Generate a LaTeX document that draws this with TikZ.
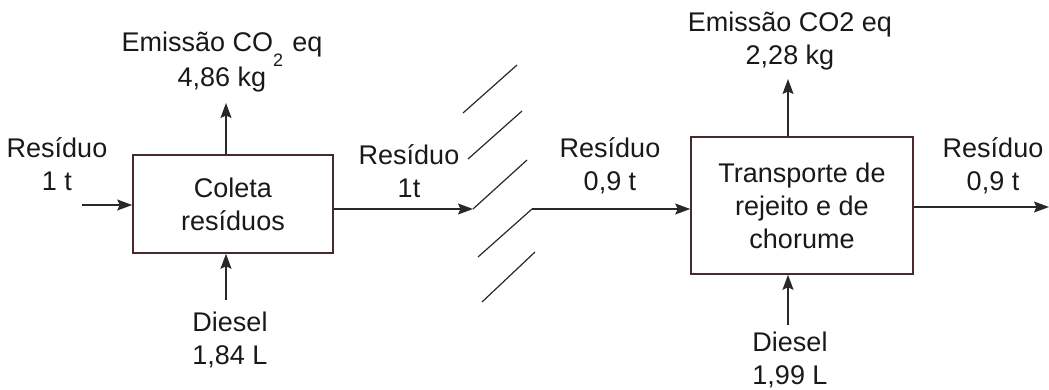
\documentclass[tikz,border=0pt]{standalone}
\usepackage{fontspec}
\setmainfont{Liberation Sans}
\usetikzlibrary{arrows.meta,calc}
\definecolor{boxline}{RGB}{72,42,42}
\definecolor{flow}{RGB}{40,40,40}
\begin{document}
\begin{tikzpicture}[x=1pt,y=-1pt,
  every node/.style={font=\fontsize{27}{33}\selectfont, text=black!90},
  proc/.style={draw=boxline, line width=1.6pt, fill=white, align=center, inner sep=0pt},
  lbl/.style={align=center, inner sep=0pt},
  flw/.style={draw=flow, line width=1.2pt},
  arr/.style={flw, -{Stealth[length=15pt,width=11pt,inset=2.5pt]}},
  brk/.style={draw=flow, line width=1.2pt}]
  \useasboundingbox (0,0) rectangle (1049,390);

  % process boxes
  \node[proc, minimum width=200pt, minimum height=98pt] (coleta) at (233,204) {Coleta\\res\'iduos};
  \node[proc, minimum width=222pt, minimum height=137pt] (transp) at (802,205.5) {Transporte de\\rejeito e de\\chorume};

  % labels
  \node[lbl] (r1) at (57,164) {Res\'iduo\\1 t};
  \node[lbl] (em1) at (222,62) {Emiss\~ao CO\raisebox{-15pt}{\fontsize{18}{20}\selectfont 2}\,\,eq\\4,86 kg};
  \node[lbl] (d1) at (230,340) {Diesel\\1,84 L};
  \node[lbl] (r2) at (409,171) {Res\'iduo\\1t};
  \node[lbl] (r3) at (610,166) {Res\'iduo\\0,9 t};
  \node[lbl] (em2) at (790,41) {Emiss\~ao CO2 eq\\2,28 kg};
  \node[lbl] (d2) at (790,360) {Diesel\\1,99 L};
  \node[lbl] (r4) at (993,166) {Res\'iduo\\0,9 t};

  % free ends of the flows
  \coordinate (inA) at (82,205);
  \coordinate (upA) at (226,103);
  \coordinate (dnA) at (226,300);
  \coordinate (cutL) at (473,209);
  \coordinate (cutR) at (532,209);
  \coordinate (upB) at (788,79);
  \coordinate (dnB) at (788,325);
  \coordinate (outB) at (1049,207);

  % flows of the first box
  \draw[arr] (inA) -- (inA -| coleta.west);
  \draw[arr] (upA |- coleta.north) -- (upA);
  \draw[arr] (dnA) -- (dnA |- coleta.south);
  \draw[arr] (cutL -| coleta.east) -- (cutL);

  % break marks
  \draw[brk] (463,113) -- (517,65);
  \draw[brk] (468,159) -- (522,111);
  \draw[brk] (cutL) -- (527,160);
  \draw[brk] (478,257) -- (cutR);
  \draw[brk] (482,302) -- (535,252);

  % flows of the second box
  \draw[arr] (cutR) -- (cutR -| transp.west);
  \draw[arr] (upB |- transp.north) -- (upB);
  \draw[arr] (dnB) -- (dnB |- transp.south);
  \draw[arr] (outB -| transp.east) -- (outB);
\end{tikzpicture}
\end{document}
